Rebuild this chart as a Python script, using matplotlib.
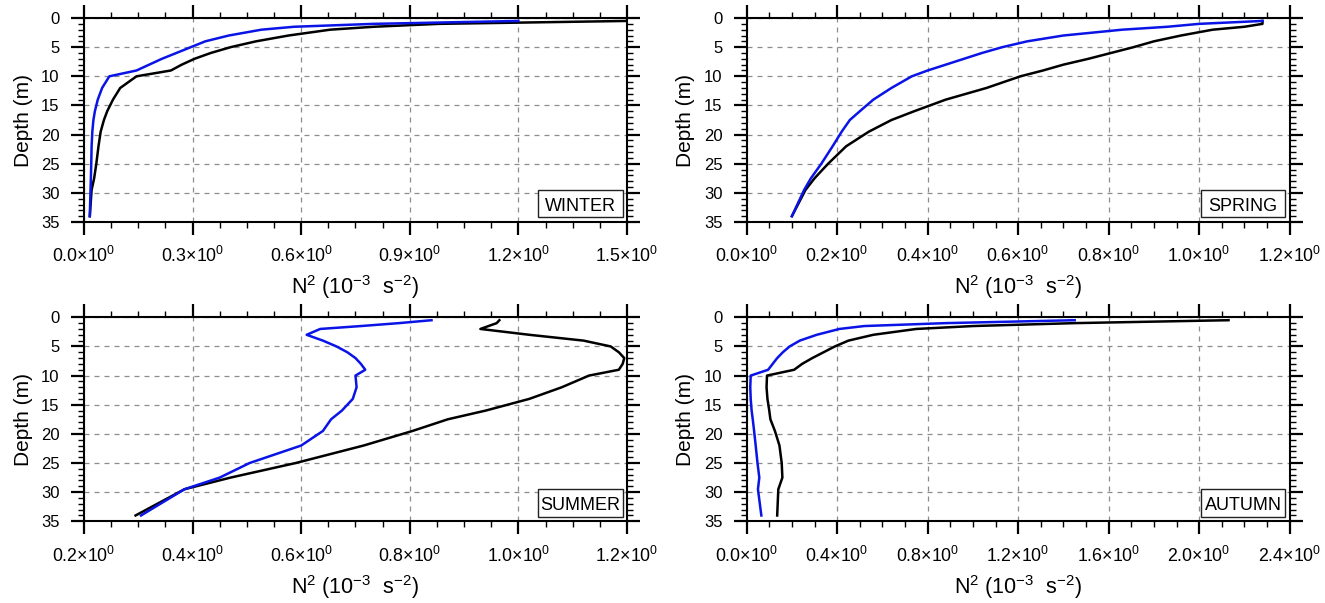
import numpy as np
import matplotlib
matplotlib.use("Agg")
import matplotlib.pyplot as plt
from matplotlib.patches import Rectangle
from matplotlib.ticker import MultipleLocator, AutoMinorLocator, FuncFormatter

plt.rcParams['font.family'] = ['Liberation Sans', 'DejaVu Sans']
plt.rcParams['mathtext.fontset'] = 'custom'
plt.rcParams['mathtext.rm'] = 'Liberation Sans'
plt.rcParams['mathtext.default'] = 'regular'

# depth levels (m)
depth = [0.5, 1, 1.5, 2, 3, 4, 5, 6, 7, 8, 9, 10, 12, 14, 16, 17.5, 19.5, 22, 25, 27.5, 29.5, 34]

# N^2 (10^-3 s^-2), black and blue profiles for each season
winter_black = [1.50, 0.98, 0.80, 0.68, 0.565, 0.475, 0.405, 0.35, 0.305, 0.27, 0.24, 0.145,
                0.10, 0.08, 0.064, 0.055, 0.046, 0.04, 0.034, 0.028, 0.021, 0.016]
winter_blue = [1.20, 0.80, 0.58, 0.49, 0.40, 0.335, 0.295, 0.255, 0.215, 0.18, 0.145, 0.07,
               0.05, 0.038, 0.03, 0.026, 0.023, 0.021, 0.02, 0.019, 0.018, 0.016]
spring_black = [1.14, 1.14, 1.10, 1.03, 0.96, 0.90, 0.855, 0.805, 0.755, 0.70, 0.655, 0.605,
                0.53, 0.44, 0.37, 0.32, 0.27, 0.22, 0.18, 0.15, 0.13, 0.10]
spring_blue = [1.14, 1.00, 0.93, 0.83, 0.70, 0.62, 0.565, 0.52, 0.48, 0.44, 0.40, 0.365,
               0.32, 0.28, 0.25, 0.228, 0.21, 0.19, 0.165, 0.142, 0.127, 0.10]
summer_black = [0.965, 0.96, 0.945, 0.93, 1.02, 1.12, 1.17, 1.185, 1.195, 1.192, 1.185, 1.13,
                1.08, 1.02, 0.94, 0.87, 0.805, 0.715, 0.59, 0.47, 0.385, 0.295]
summer_blue = [0.84, 0.78, 0.71, 0.635, 0.61, 0.64, 0.665, 0.685, 0.70, 0.71, 0.718, 0.70,
               0.702, 0.695, 0.675, 0.655, 0.64, 0.60, 0.505, 0.45, 0.385, 0.305]
autumn_black = [2.13, 1.45, 1.0, 0.75, 0.56, 0.45, 0.39, 0.34, 0.29, 0.245, 0.21, 0.09,
                0.088, 0.092, 0.10, 0.105, 0.125, 0.145, 0.155, 0.158, 0.14, 0.135]
autumn_blue = [1.45, 0.88, 0.52, 0.41, 0.31, 0.235, 0.19, 0.16, 0.135, 0.115, 0.095, 0.018,
               0.016, 0.018, 0.022, 0.027, 0.033, 0.04, 0.048, 0.056, 0.05, 0.065]

seasons = ['WINTER', 'SPRING', 'SUMMER', 'AUTUMN']
xlims = [(0.0, 1.5), (0.0, 1.2), (0.2, 1.2), (0.0, 2.4)]
xsteps = [0.3, 0.2, 0.2, 0.4]
black_series = [winter_black, spring_black, summer_black, autumn_black]
blue_series = [winter_blue, spring_blue, summer_blue, autumn_blue]

fig = plt.figure(figsize=(13.25, 6.03), dpi=100)
positions = [[0.0634, 0.6318, 0.4098, 0.3383], [0.5635, 0.6318, 0.4098, 0.3383],
             [0.0634, 0.1355, 0.4098, 0.3383], [0.5635, 0.1355, 0.4098, 0.3383]]

fmt = FuncFormatter(lambda v, p: f"{v:.1f}\u00d710$^0$")

for i in range(4):
    ax = fig.add_axes(positions[i])
    ax.plot(black_series[i], depth, color='black', lw=1.8, zorder=3)
    ax.plot(blue_series[i], depth, color='#0a14e6', lw=1.8, zorder=4)
    ax.set_xlim(*xlims[i])
    ax.set_ylim(35, 0)
    ax.xaxis.set_major_locator(MultipleLocator(xsteps[i]))
    ax.xaxis.set_minor_locator(AutoMinorLocator(4))
    ax.yaxis.set_major_locator(MultipleLocator(5))
    ax.yaxis.set_minor_locator(MultipleLocator(1))
    ax.xaxis.set_major_formatter(fmt)
    ax.tick_params(which='both', direction='out', top=True, right=True, labelsize=12)
    ax.tick_params(axis='x', labelsize=12.8)
    ax.tick_params(which='major', length=9.5, width=1.6)
    ax.tick_params(which='minor', length=4, width=1)
    ax.tick_params(axis='x', which='major', pad=8)
    ax.tick_params(axis='y', which='major', pad=8)
    for s in ax.spines.values():
        s.set_linewidth(1.5)
    ax.grid(True, which='major', color='#8c8c8c', lw=0.9, linestyle=(0, (4, 4)))
    ax.set_ylabel('Depth (m)', fontsize=15, labelpad=6)
    ax.set_xlabel('N$^2$ (10$^{-3}$  s$^{-2}$)', fontsize=15.5, labelpad=5)
    # season label box in the lower right corner
    ax.add_patch(Rectangle((0.8366, 0.023), 0.1555, 0.134, transform=ax.transAxes,
                           fc='white', ec='#222222', lw=1, zorder=6))
    ax.text(0.9144, 0.055, seasons[i], transform=ax.transAxes, ha='center', va='baseline',
            fontsize=13, zorder=7)

fig.savefig('out.png', dpi=100)
